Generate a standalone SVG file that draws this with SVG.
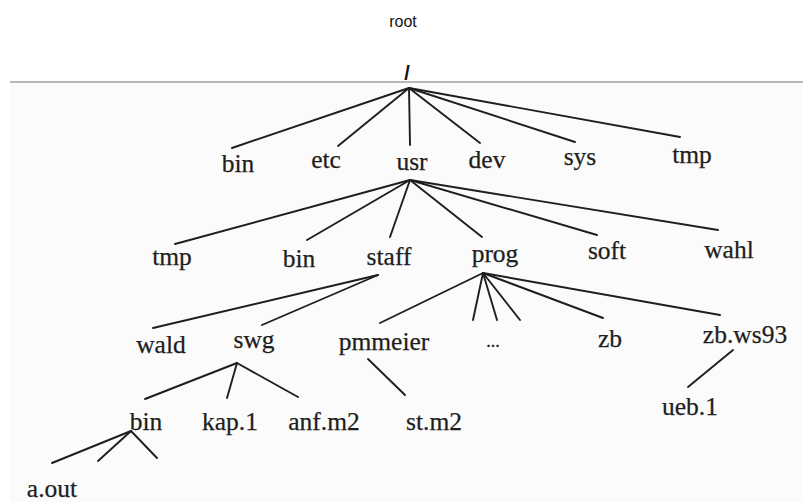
<svg xmlns="http://www.w3.org/2000/svg" width="803" height="502" viewBox="0 0 803 502">
<style>
.n text{font-family:"Liberation Serif","Times New Roman",serif;font-size:25.5px;fill:#1e1e1e;stroke:#1e1e1e;stroke-width:0.25;text-anchor:middle}
.e line{stroke:#1e1e1e;stroke-width:1.9;stroke-linecap:round}
.title{font-family:"Liberation Sans",Arial,sans-serif;font-size:16px;fill:#111;text-anchor:middle}
</style>
<rect x="0" y="0" width="803" height="502" fill="#ffffff"/>
<rect x="10" y="82" width="793" height="420" fill="#fbfbfb"/>
<line x1="10" y1="82" x2="803" y2="82" stroke="#a0a0a0" stroke-width="1.5"/>
<text class="title" x="403" y="27">root</text>
<g id="root"><text x="407" y="80" style="font-family:'Liberation Sans',Arial,sans-serif;font-size:20px;font-weight:bold;fill:#111;text-anchor:middle">/</text></g>
<g id="connectors" class="e">
<line x1="409" y1="88" x2="232" y2="148"/>
<line x1="409" y1="88" x2="338" y2="146"/>
<line x1="409" y1="88" x2="410" y2="145"/>
<line x1="409" y1="88" x2="480" y2="143"/>
<line x1="409" y1="88" x2="575" y2="142"/>
<line x1="409" y1="88" x2="680" y2="137"/>
<line x1="410" y1="180" x2="175" y2="244"/>
<line x1="410" y1="180" x2="307" y2="240"/>
<line x1="410" y1="180" x2="390" y2="237"/>
<line x1="410" y1="180" x2="482" y2="237"/>
<line x1="410" y1="180" x2="597" y2="235"/>
<line x1="410" y1="180" x2="718" y2="230"/>
<line x1="378" y1="275" x2="153" y2="328"/>
<line x1="378" y1="275" x2="262" y2="325"/>
<line x1="483" y1="273" x2="380" y2="323"/>
<line x1="483" y1="273" x2="473" y2="320"/>
<line x1="483" y1="273" x2="497" y2="320"/>
<line x1="483" y1="273" x2="520" y2="320"/>
<line x1="483" y1="273" x2="603" y2="318"/>
<line x1="483" y1="273" x2="720" y2="315"/>
<line x1="237" y1="363" x2="145" y2="399"/>
<line x1="237" y1="363" x2="227" y2="398"/>
<line x1="237" y1="363" x2="298" y2="397"/>
<line x1="368" y1="359" x2="405" y2="395"/>
<line x1="733" y1="350" x2="688" y2="387"/>
<line x1="131" y1="431" x2="52" y2="463"/>
<line x1="131" y1="431" x2="98" y2="461"/>
<line x1="131" y1="431" x2="157" y2="458"/>
</g>
<g id="bin" class="n"><text x="238" y="172">bin</text></g>
<g id="etc" class="n"><text x="326" y="168">etc</text></g>
<g id="usr" class="n"><text x="412" y="170">usr</text></g>
<g id="dev" class="n"><text x="487" y="168">dev</text></g>
<g id="sys" class="n"><text x="580" y="165">sys</text></g>
<g id="tmp" class="n"><text x="692" y="163">tmp</text></g>
<g id="usr-tmp" class="n"><text x="172" y="265">tmp</text></g>
<g id="usr-bin" class="n"><text x="299" y="267">bin</text></g>
<g id="staff" class="n"><text x="389" y="265">staff</text></g>
<g id="prog" class="n"><text x="495" y="262">prog</text></g>
<g id="soft" class="n"><text x="607" y="259">soft</text></g>
<g id="wahl" class="n"><text x="729" y="258">wahl</text></g>
<g id="wald" class="n"><text x="161" y="353">wald</text></g>
<g id="swg" class="n"><text x="254" y="348">swg</text></g>
<g id="pmmeier" class="n"><text x="384" y="350">pmmeier</text></g>
<g id="dots" class="n"><text x="493" y="347" style="font-size:18px">...</text></g>
<g id="zb" class="n"><text x="610" y="347">zb</text></g>
<g id="zbws93" class="n"><text x="745" y="343">zb.ws93</text></g>
<g id="swg-bin" class="n"><text x="146" y="430">bin</text></g>
<g id="kap1" class="n"><text x="230" y="430">kap.1</text></g>
<g id="anfm2" class="n"><text x="324" y="430">anf.m2</text></g>
<g id="stm2" class="n"><text x="434" y="430">st.m2</text></g>
<g id="ueb1" class="n"><text x="690" y="415">ueb.1</text></g>
<g id="aout" class="n"><text x="52" y="497">a.out</text></g>
</svg>
